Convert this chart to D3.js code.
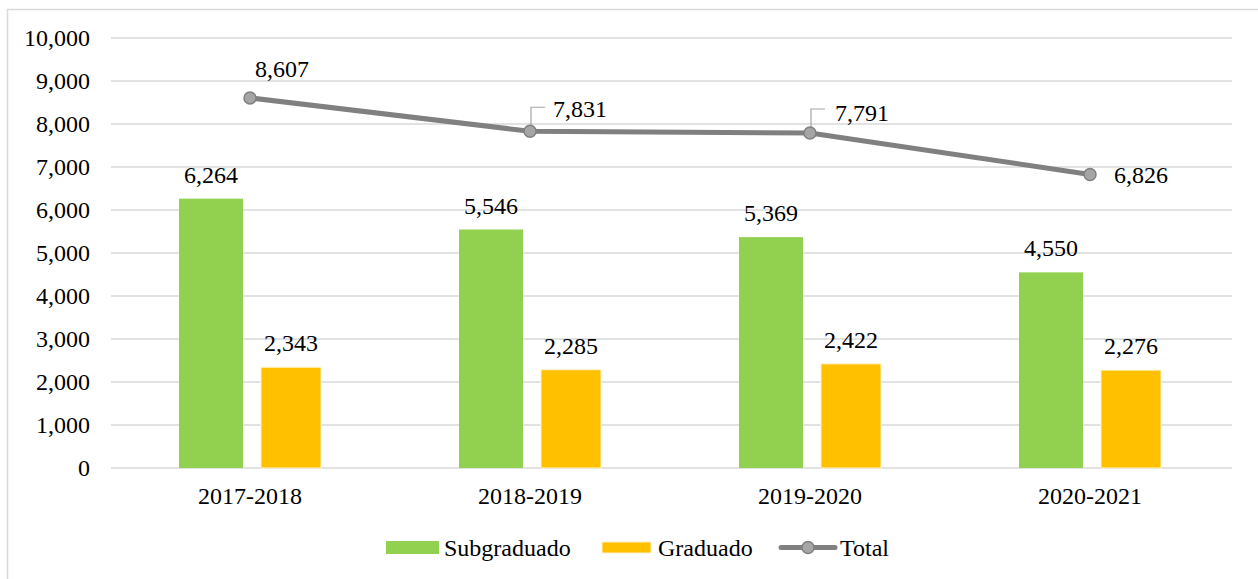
<!DOCTYPE html>
<html>
<head>
<meta charset="utf-8">
<script src="https://cdn.jsdelivr.net/npm/d3@7"></script>
<style>
  body { margin: 0; background: #fff; }
  text { font-family: "Liberation Serif", "Times New Roman", serif; fill: #000; }
</style>
</head>
<body>
<svg id="mysvg" width="1258" height="579"></svg>
<script>
// data
var years = ["2017-2018", "2018-2019", "2019-2020", "2020-2021"];
var subgraduado = [6264, 5546, 5369, 4550];
var graduado = [2343, 2285, 2422, 2276];
var total = [8607, 7831, 7791, 6826];
var yTicks = [0, 1000, 2000, 3000, 4000, 5000, 6000, 7000, 8000, 9000, 10000];

var svg = d3.select("#mysvg");
var fontSize = 24;
var fmt = d3.format(",");

// chart frame
svg.append("rect")
    .attr("x", 7.5).attr("y", 9.5)
    .attr("width", 1258).attr("height", 600)
    .attr("fill", "none").attr("stroke", "#d9d9d9").attr("stroke-width", 1.5);

var x = d3.scaleBand().domain(years).range([110, 1230]);
var y = d3.scaleLinear().domain([0, 10000]).range([468, 38]);

// gridlines
svg.append("g")
    .selectAll("line")
    .data(yTicks)
    .enter()
    .append("line")
    .attr("x1", 111).attr("x2", 1232)
    .attr("y1", function(d) { return y(d); })
    .attr("y2", function(d) { return y(d); })
    .attr("stroke", "#d9d9d9").attr("stroke-width", 1.5);

// y axis labels
var yAxis = d3.axisLeft(y).tickValues(yTicks).tickFormat(fmt).tickSize(0).tickPadding(0);
svg.append("g")
    .attr("transform", "translate(90,0)")
    .call(yAxis)
    .call(function(g) { g.select(".domain").remove(); })
    .selectAll("text")
    .style("font-family", '"Liberation Serif", serif')
    .style("font-size", fontSize + "px")
    .attr("fill", "#000");

// x axis labels
var xAxis = d3.axisBottom(x).tickSize(0).tickPadding(0);
svg.append("g")
    .attr("transform", "translate(0,487)")
    .call(xAxis)
    .call(function(g) { g.select(".domain").remove(); })
    .selectAll("text")
    .style("font-family", '"Liberation Serif", serif')
    .style("font-size", fontSize + "px")
    .attr("fill", "#000");

// bars
var greenX = function(i) { return x(years[i]) + 69; };
var yellowX = function(i) { return x(years[i]) + 151; };

svg.append("g")
    .selectAll("rect")
    .data(subgraduado)
    .enter()
    .append("rect")
    .attr("x", function(d, i) { return greenX(i); })
    .attr("width", 64)
    .attr("y", function(d) { return y(d); })
    .attr("height", function(d) { return y(0) - y(d); })
    .attr("fill", "#92d050");

svg.append("g")
    .selectAll("rect")
    .data(graduado)
    .enter()
    .append("rect")
    .attr("x", function(d, i) { return yellowX(i); })
    .attr("width", 60)
    .attr("y", function(d) { return y(d); })
    .attr("height", function(d) { return y(0) - y(d); })
    .attr("fill", "#ffc000")
    .attr("stroke", "#fff2cc").attr("stroke-width", 1);

// bar labels
svg.append("g")
    .selectAll("text")
    .data(subgraduado)
    .enter()
    .append("text")
    .attr("x", function(d, i) { return greenX(i) + 32; })
    .attr("y", function(d) { return y(d) - 16; })
    .attr("text-anchor", "middle")
    .style("font-size", fontSize + "px")
    .text(function(d) { return fmt(d); });

svg.append("g")
    .selectAll("text")
    .data(graduado)
    .enter()
    .append("text")
    .attr("x", function(d, i) { return yellowX(i) + 30; })
    .attr("y", function(d) { return y(d) - 16; })
    .attr("text-anchor", "middle")
    .style("font-size", fontSize + "px")
    .text(function(d) { return fmt(d); });

// total line
var cx = function(i) { return x(years[i]) + x.bandwidth() / 2; };
var line = d3.line()
    .x(function(d, i) { return cx(i); })
    .y(function(d) { return y(d); });

svg.append("path")
    .datum(total)
    .attr("d", line)
    .attr("fill", "none")
    .attr("stroke", "#808080")
    .attr("stroke-width", 5)
    .attr("stroke-linejoin", "round");

// leader lines for the middle labels
var leaders = [1, 2];
svg.append("g")
    .selectAll("path")
    .data(leaders)
    .enter()
    .append("path")
    .attr("d", function(i) {
        var px = cx(i) + 1, py = y(total[i]);
        return "M" + px + "," + (py - 6) + "V" + (py - 24) + "H" + (px + 14);
    })
    .attr("fill", "none")
    .attr("stroke", "#a6a6a6")
    .attr("stroke-width", 1.2);

svg.append("g")
    .selectAll("circle")
    .data(total)
    .enter()
    .append("circle")
    .attr("cx", function(d, i) { return cx(i); })
    .attr("cy", function(d) { return y(d); })
    .attr("r", 6)
    .attr("fill", "#a5a5a5")
    .attr("stroke", "#808080")
    .attr("stroke-width", 1.5);

// total labels: offsets as placed in the picture
var totalOffsets = [[32, -21, "middle"], [23, -14, "start"], [25, -12, "start"], [51, 9, "middle"]];
svg.append("g")
    .selectAll("text")
    .data(total)
    .enter()
    .append("text")
    .attr("x", function(d, i) { return cx(i) + totalOffsets[i][0]; })
    .attr("y", function(d, i) { return y(d) + totalOffsets[i][1]; })
    .attr("text-anchor", function(d, i) { return totalOffsets[i][2]; })
    .style("font-size", fontSize + "px")
    .text(function(d) { return fmt(d); });

// legend
var legend = svg.append("g");
legend.append("rect").attr("x", 386).attr("y", 541).attr("width", 53).attr("height", 13).attr("fill", "#92d050");
legend.append("text").attr("x", 444).attr("y", 556).style("font-size", fontSize + "px").text("Subgraduado");
legend.append("rect").attr("x", 602).attr("y", 542).attr("width", 49).attr("height", 11)
    .attr("fill", "#ffc000").attr("stroke", "#fff2cc").attr("stroke-width", 1);
legend.append("text").attr("x", 658).attr("y", 556).style("font-size", fontSize + "px").text("Graduado");
legend.append("line").attr("x1", 781).attr("x2", 835).attr("y1", 547.5).attr("y2", 547.5)
    .attr("stroke", "#808080").attr("stroke-width", 5).attr("stroke-linecap", "round");
legend.append("circle").attr("cx", 808).attr("cy", 547.5).attr("r", 6)
    .attr("fill", "#a5a5a5").attr("stroke", "#808080").attr("stroke-width", 1.5);
legend.append("text").attr("x", 840).attr("y", 556).style("font-size", fontSize + "px").text("Total");
</script>
</body>
</html>
